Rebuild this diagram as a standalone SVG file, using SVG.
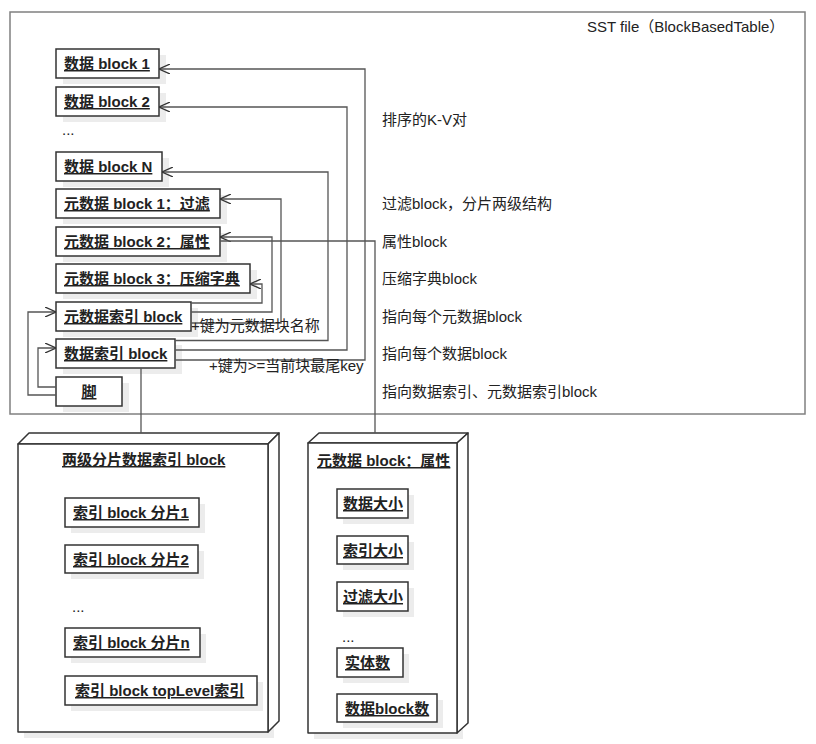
<svg xmlns="http://www.w3.org/2000/svg" width="816" height="744" viewBox="0 0 816 744">
<style>
text{font-family:"Liberation Sans","Noto Sans CJK SC",sans-serif;font-size:15px;fill:#222}
.b{font-weight:bold;text-decoration:underline}
.box{fill:#fff;stroke:#333;stroke-width:1.5}
.sh{fill:#ececec}
.frame{fill:none;stroke:#808080;stroke-width:1.5}
.c{fill:none;stroke:#555;stroke-width:1.3}
.n3d{fill:#fff;stroke:#333;stroke-width:1.5;stroke-linejoin:round}
</style>
<defs>
<marker id="arr" viewBox="0 0 11 10" refX="11" refY="5" markerWidth="11" markerHeight="10" markerUnits="userSpaceOnUse" orient="auto">
<path d="M0,0 L11,5 L0,10" fill="none" stroke="#333" stroke-width="1.3"/>
</marker>
</defs>
<rect width="816" height="744" fill="#fff"/>
<g id="sst-frame">
<rect class="frame" x="10" y="12" width="795" height="402"/>
<text x="587" y="32">SST file（BlockBasedTable）</text>
</g>
<g id="notes">
<text x="382" y="125">排序的K-V对</text>
<text x="382" y="209">过滤block，分片两级结构</text>
<text x="382" y="247">属性block</text>
<text x="382" y="284">压缩字典block</text>
<text x="382" y="322">指向每个元数据block</text>
<text x="382" y="359">指向每个数据block</text>
<text x="382" y="397">指向数据索引、元数据索引block</text>
</g>
<g id="data1"><rect class="sh" x="63" y="55" width="103" height="29"/><rect class="box" x="56" y="49" width="103" height="29"/><text class="b" x="64" y="69">数据 block 1</text></g>
<g id="data2"><rect class="sh" x="63" y="93" width="103" height="29"/><rect class="box" x="56" y="87" width="103" height="29"/><text class="b" x="64" y="107">数据 block 2</text></g>
<g id="dots1"><text x="62" y="135">...</text></g>
<g id="dataN"><rect class="sh" x="63" y="158" width="106" height="29"/><rect class="box" x="56" y="152" width="106" height="29"/><text class="b" x="64" y="172">数据 block N</text></g>
<g id="meta1"><rect class="sh" x="63" y="195" width="164" height="29"/><rect class="box" x="56" y="189" width="164" height="29"/><text class="b" x="64" y="209">元数据 block 1：过滤</text></g>
<g id="meta2"><rect class="sh" x="63" y="233" width="164" height="29"/><rect class="box" x="56" y="227" width="164" height="29"/><text class="b" x="64" y="247">元数据 block 2：属性</text></g>
<g id="meta3"><rect class="sh" x="63" y="270" width="194" height="29"/><rect class="box" x="56" y="264" width="194" height="29"/><text class="b" x="64" y="284">元数据 block 3：压缩字典</text></g>
<g id="metaindex"><rect class="sh" x="63" y="308" width="135" height="29"/><rect class="box" x="56" y="302" width="135" height="29"/><text class="b" x="64" y="322">元数据索引 block</text></g>
<g id="dataindex"><rect class="sh" x="63" y="345" width="119" height="29"/><rect class="box" x="56" y="339" width="119" height="29"/><text class="b" x="64" y="359">数据索引 block</text></g>
<g id="footer"><rect class="sh" x="63" y="383" width="66" height="29"/><rect class="box" x="56" y="377" width="66" height="29"/><text class="b" x="89" y="397" text-anchor="middle">脚</text></g>

<g id="index-node">
<path class="sh" d="M24,450 H274 V738 H24 Z"/>
<path class="n3d" d="M18,444 L29,433 L279,433 L268,444 Z"/>
<path class="n3d" d="M268,444 L279,433 L279,721 L268,732 Z"/>
<rect class="n3d" x="18" y="444" width="250" height="288"/>
<text class="b" x="62" y="465">两级分片数据索引 block</text>
<rect class="sh" x="71" y="504" width="134" height="29"/><rect class="box" x="65" y="498" width="134" height="29"/><text class="b" x="73" y="518">索引 block 分片1</text>
<rect class="sh" x="71" y="551" width="133" height="28"/><rect class="box" x="65" y="545" width="133" height="28"/><text class="b" x="73" y="565">索引 block 分片2</text>
<text x="72" y="612">...</text>
<rect class="sh" x="71" y="634" width="135" height="29"/><rect class="box" x="65" y="628" width="135" height="29"/><text class="b" x="73" y="648">索引 block 分片n</text>
<rect class="sh" x="71" y="682" width="192" height="29"/><rect class="box" x="65" y="676" width="192" height="29"/><text class="b" x="75" y="696">索引 block topLevel索引</text>
</g>

<g id="props-node">
<path class="sh" d="M314,449 H463 V739 H314 Z"/>
<path class="n3d" d="M308,443 L319,433 L468,433 L457,443 Z"/>
<path class="n3d" d="M457,443 L468,433 L468,723 L457,733 Z"/>
<rect class="n3d" x="308" y="443" width="149" height="290"/>
<text class="b" x="317" y="466">元数据 block：属性</text>
<rect class="sh" x="343" y="495" width="71" height="29"/><rect class="box" x="337" y="489" width="71" height="29"/><text class="b" x="343" y="509">数据大小</text>
<rect class="sh" x="343" y="542" width="71" height="28"/><rect class="box" x="337" y="536" width="71" height="28"/><text class="b" x="343" y="556">索引大小</text>
<rect class="sh" x="343" y="588" width="71" height="29"/><rect class="box" x="337" y="582" width="71" height="29"/><text class="b" x="343" y="602">过滤大小</text>
<text x="342" y="642">...</text>
<rect class="sh" x="343" y="654" width="66" height="29"/><rect class="box" x="337" y="648" width="66" height="29"/><text class="b" x="345" y="668">实体数</text>
<rect class="sh" x="343" y="700" width="100" height="28"/><rect class="box" x="337" y="694" width="100" height="28"/><text class="b" x="345" y="714">数据block数</text>
</g>

<g id="connectors">
<polyline class="c" points="175,360 365,360 365,69 159,69" marker-end="url(#arr)"/>
<polyline class="c" points="175,350 347,350 347,107 159,107" marker-end="url(#arr)"/>
<polyline class="c" points="175,340.5 328,340.5 328,172 162,172" marker-end="url(#arr)"/>
<polyline class="c" points="191,323 281,323 281,199 220,199" marker-end="url(#arr)"/>
<polyline class="c" points="191,312 272,312 272,237 220,237" marker-end="url(#arr)"/>
<polyline class="c" points="191,303 262,303 262,284 250,284" marker-end="url(#arr)"/>
<polyline class="c" points="220,241 375,241 375,433"/>
<polyline class="c" points="141,368 141,433"/>
<polyline class="c" points="56,387 38,387 38,348 56,348" marker-end="url(#arr)"/>
<polyline class="c" points="56,395 28,395 28,312 56,312" marker-end="url(#arr)"/>
<text x="191" y="331">+键为元数据块名称</text>
<text x="209" y="371">+键为&gt;=当前块最尾key</text>
</g>
</svg>
